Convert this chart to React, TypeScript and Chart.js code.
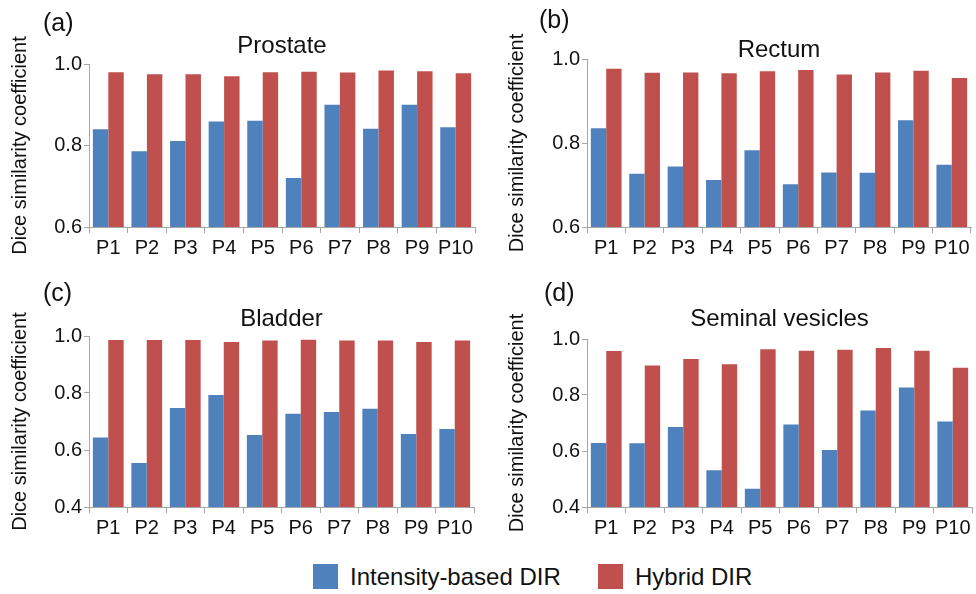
import React, { useEffect, useRef } from "react";
import { Chart, registerables } from "chart.js";

Chart.register(...registerables);

// ---- data ----
const patients = ["P1", "P2", "P3", "P4", "P5", "P6", "P7", "P8", "P9", "P10"];
const seriesNames = ["Intensity-based DIR", "Hybrid DIR"];
const seriesColors = ["#4F81BD", "#C0504D"];

const prostateIntensity = [0.840, 0.786, 0.811, 0.859, 0.861, 0.720, 0.900, 0.841, 0.900, 0.845];
const prostateHybrid = [0.980, 0.975, 0.975, 0.970, 0.980, 0.981, 0.979, 0.984, 0.982, 0.977];

const rectumIntensity = [0.835, 0.727, 0.744, 0.712, 0.783, 0.702, 0.730, 0.729, 0.854, 0.748];
const rectumHybrid = [0.977, 0.967, 0.968, 0.966, 0.971, 0.974, 0.963, 0.968, 0.972, 0.955];

const bladderIntensity = [0.644, 0.554, 0.747, 0.793, 0.653, 0.727, 0.733, 0.745, 0.656, 0.674];
const bladderHybrid = [0.986, 0.986, 0.986, 0.979, 0.984, 0.987, 0.984, 0.984, 0.979, 0.984];

const vesiclesIntensity = [0.629, 0.628, 0.686, 0.531, 0.465, 0.695, 0.604, 0.745, 0.827, 0.705];
const vesiclesHybrid = [0.957, 0.905, 0.929, 0.910, 0.963, 0.958, 0.962, 0.968, 0.958, 0.897];

const yAxisTitle = "Dice similarity coefficient";
const yMaxAll = 1.0;
const yStep = 0.2;

const FONT = "'Liberation Sans', Arial, Helvetica, sans-serif";
const AXIS_GRAY = "#a6a6a6";

type PanelProps = {
  letter: string;
  title: string;
  intensity: number[];
  hybrid: number[];
  yMin: number;
  left: number;
  top: number;
  width: number;
  height: number;
  axisWidth: number;
  padTop: number;
  padRight: number;
  yTitlePad: number;
  titleTop: number;
  letterLeft: number;
  letterTop: number;
};

function Panel(p: PanelProps) {
  const ref = useRef<HTMLCanvasElement | null>(null);
  useEffect(() => {
    if (!ref.current) return;
    const chart = new Chart(ref.current, {
      type: "bar",
      data: {
        labels: patients,
        datasets: [
          {
            label: seriesNames[0],
            data: p.intensity,
            backgroundColor: seriesColors[0],
            borderWidth: 0,
            categoryPercentage: 0.8,
            barPercentage: 1.0,
          },
          {
            label: seriesNames[1],
            data: p.hybrid,
            backgroundColor: seriesColors[1],
            borderWidth: 0,
            categoryPercentage: 0.8,
            barPercentage: 1.0,
          },
        ],
      },
      options: {
        responsive: false,
        animation: false,
        devicePixelRatio: 1,
        layout: { padding: { top: p.padTop, right: p.padRight, left: 0, bottom: 0 } },
        plugins: {
          legend: { display: false },
          title: { display: false },
          tooltip: { enabled: false },
        },
        scales: {
          x: {
            grid: {
              drawOnChartArea: false,
              drawTicks: true,
              tickLength: 6,
              color: AXIS_GRAY,
              offset: true,
            },
            border: { display: true, color: AXIS_GRAY, width: 1 },
            ticks: {
              color: "#111",
              font: { family: FONT, size: 20 },
              padding: 3,
              maxRotation: 0,
              autoSkip: false,
            },
            afterFit: (scale: any) => {
              scale.height = 35;
            },
          },
          y: {
            min: p.yMin,
            max: yMaxAll,
            grid: {
              drawOnChartArea: false,
              drawTicks: true,
              tickLength: 5,
              color: AXIS_GRAY,
            },
            border: { display: true, color: AXIS_GRAY, width: 1 },
            ticks: {
              stepSize: yStep,
              color: "#111",
              font: { family: FONT, size: 20 },
              padding: 2,
              callback: (v: any) => Number(v).toFixed(1),
            },
            title: {
              display: true,
              text: yAxisTitle,
              color: "#111",
              font: { family: FONT, size: 20 },
              padding: { top: p.yTitlePad, bottom: 0 },
            },
            afterFit: (scale: any) => {
              scale.width = p.axisWidth;
            },
          },
        },
      },
    });
    return () => chart.destroy();
  }, []);

  const chartLeft = p.left + p.axisWidth;
  const chartRight = p.left + p.width - p.padRight;
  const center = (chartLeft + chartRight) / 2;

  return (
    <>
      <canvas
        ref={ref}
        width={p.width}
        height={p.height}
        style={{ position: "absolute", left: p.left, top: p.top, width: p.width, height: p.height }}
      />
      <div
        style={{
          position: "absolute",
          left: center - 200,
          width: 400,
          top: p.titleTop,
          textAlign: "center",
          fontSize: 24,
          lineHeight: "24px",
          color: "#111",
          whiteSpace: "nowrap",
        }}
      >
        {p.title}
      </div>
      <div
        style={{
          position: "absolute",
          left: p.letterLeft,
          top: p.letterTop,
          fontSize: 25,
          lineHeight: "25px",
          color: "#111",
          whiteSpace: "nowrap",
        }}
      >
        {p.letter}
      </div>
    </>
  );
}

export default function App() {
  return (
    <div
      style={{
        position: "absolute",
        left: 0,
        top: 0,
        width: 976,
        height: 594,
        background: "#fff",
        fontFamily: FONT,
        overflow: "hidden",
      }}
    >
      <Panel
        letter="(a)"
        title="Prostate"
        intensity={prostateIntensity}
        hybrid={prostateHybrid}
        yMin={0.6}
        left={0}
        top={0}
        width={488}
        height={262}
        axisWidth={89}
        padTop={64}
        padRight={13}
        yTitlePad={8}
        titleTop={33}
        letterLeft={43}
        letterTop={10}
      />
      <Panel
        letter="(b)"
        title="Rectum"
        intensity={rectumIntensity}
        hybrid={rectumHybrid}
        yMin={0.6}
        left={488}
        top={0}
        width={488}
        height={262}
        axisWidth={99}
        padTop={59}
        padRight={5}
        yTitlePad={17}
        titleTop={37}
        letterLeft={539}
        letterTop={7}
      />
      <Panel
        letter="(c)"
        title="Bladder"
        intensity={bladderIntensity}
        hybrid={bladderHybrid}
        yMin={0.4}
        left={0}
        top={280}
        width={488}
        height={262}
        axisWidth={89}
        padTop={56}
        padRight={14}
        yTitlePad={8}
        titleTop={306}
        letterLeft={43}
        letterTop={280}
      />
      <Panel
        letter="(d)"
        title="Seminal vesicles"
        intensity={vesiclesIntensity}
        hybrid={vesiclesHybrid}
        yMin={0.4}
        left={488}
        top={280}
        width={488}
        height={262}
        axisWidth={99}
        padTop={59}
        padRight={4}
        yTitlePad={17}
        titleTop={306}
        letterLeft={544}
        letterTop={280}
      />
      {/* legend */}
      <div style={{ position: "absolute", left: 313, top: 564, width: 25, height: 25, background: seriesColors[0] }} />
      <div
        style={{
          position: "absolute",
          left: 350,
          top: 565,
          fontSize: 24,
          lineHeight: "24px",
          color: "#111",
          whiteSpace: "nowrap",
        }}
      >
        {seriesNames[0]}
      </div>
      <div style={{ position: "absolute", left: 598, top: 564, width: 25, height: 25, background: seriesColors[1] }} />
      <div
        style={{
          position: "absolute",
          left: 635,
          top: 565,
          fontSize: 24,
          lineHeight: "24px",
          color: "#111",
          whiteSpace: "nowrap",
        }}
      >
        {seriesNames[1]}
      </div>
    </div>
  );
}
